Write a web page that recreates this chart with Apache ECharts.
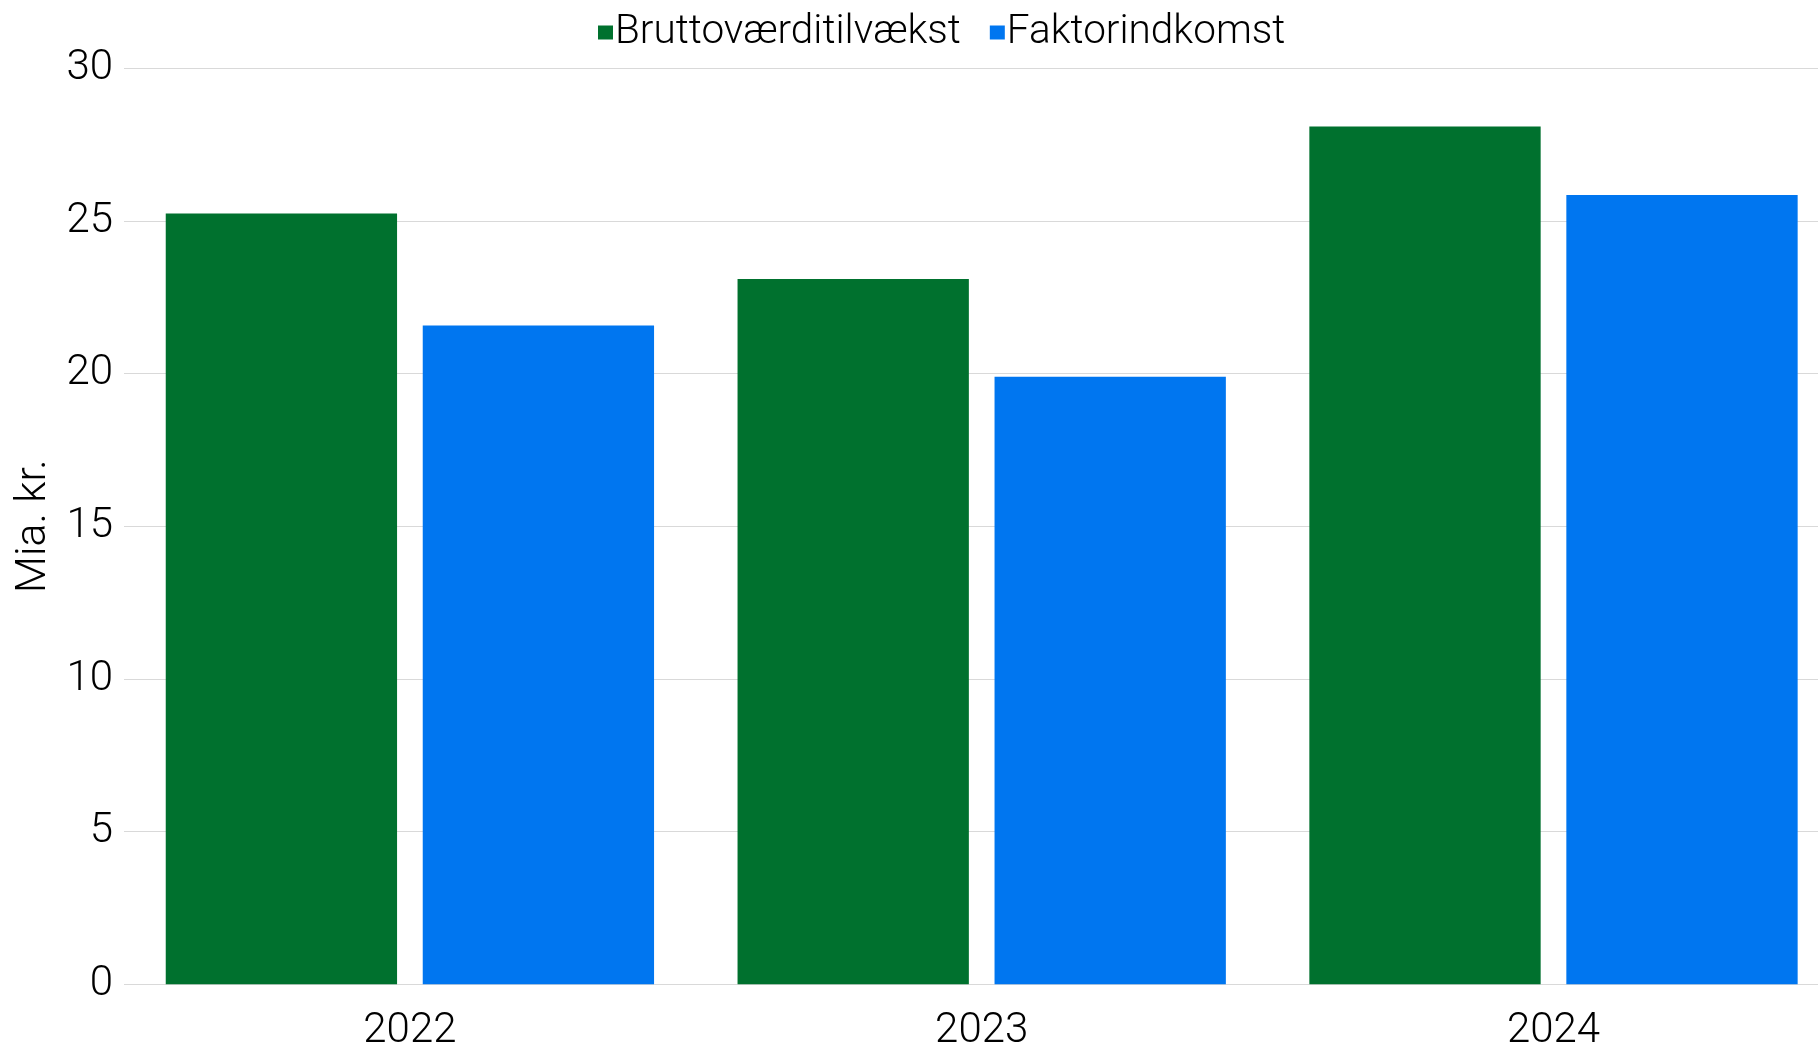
<!DOCTYPE html>
<html>
<head>
<meta charset="utf-8">
<script src="https://cdn.jsdelivr.net/npm/echarts@6/dist/echarts.min.js"></script>
<style>
html,body{margin:0;padding:0;background:#fff;}
#chart{width:1818px;height:1051px;}
</style>
</head>
<body>
<div id="chart"></div>
<script>
const categories = ['2022', '2023', '2024'];
const seriesNames = ['Bruttoværditilvækst', 'Faktorindkomst'];
const bruttovaerditilvaekst = [25.25, 23.1, 28.1];
const faktorindkomst = [21.58, 19.9, 25.85];
const yTicks = [0, 5, 10, 15, 20, 25, 30];
const yAxisName = 'Mia. kr.';

const textFont = 'Roboto';

const chart = echarts.init(document.getElementById('chart'));
chart.setOption({
  animation: false,
  backgroundColor: '#ffffff',
  legend: {
    top: 7,
    left: 593,
    itemWidth: 15,
    itemHeight: 14,
    itemGap: 29,
    icon: 'rect',
    textStyle: { fontFamily: textFont, fontWeight: 300, fontSize: 40.5, color: '#000', padding: [0,0,0,-3] },
    data: seriesNames
  },
  grid: { left: 124, top: 68.4, right: -21.4, bottom: 66.7, outerBoundsMode: 'none', containLabel: false },
  xAxis: {
    type: 'category',
    data: categories,
    axisLine: { show: false },
    axisTick: { show: false },
    axisLabel: { fontFamily: textFont, fontWeight: 300, fontSize: 42, color: '#000', margin: 26 }
  },
  yAxis: {
    type: 'value',
    min: yTicks[0],
    max: yTicks[yTicks.length - 1],
    interval: 5,
    name: yAxisName,
    nameLocation: 'middle',
    nameGap: 63,
    nameTextStyle: { fontFamily: textFont, fontWeight: 300, fontSize: 43, color: '#000' },
    axisLine: { show: false },
    axisTick: { show: false },
    axisLabel: { fontFamily: textFont, fontWeight: 300, fontSize: 42, color: '#000', margin: 11, padding: [6, 0, 0, 0] },
    splitLine: { lineStyle: { color: '#d9d9d9', width: 1.2 } }
  },
  series: [
    {
      name: seriesNames[0], type: 'bar', data: bruttovaerditilvaekst,
      itemStyle: { color: '#00712e' },
      barGap: '11.1%', barCategoryGap: '14.6%'
    },
    {
      name: seriesNames[1], type: 'bar', data: faktorindkomst,
      itemStyle: { color: '#0076f0' },
      barGap: '11.1%', barCategoryGap: '14.6%'
    }
  ]
});
</script>
</body>
</html>
